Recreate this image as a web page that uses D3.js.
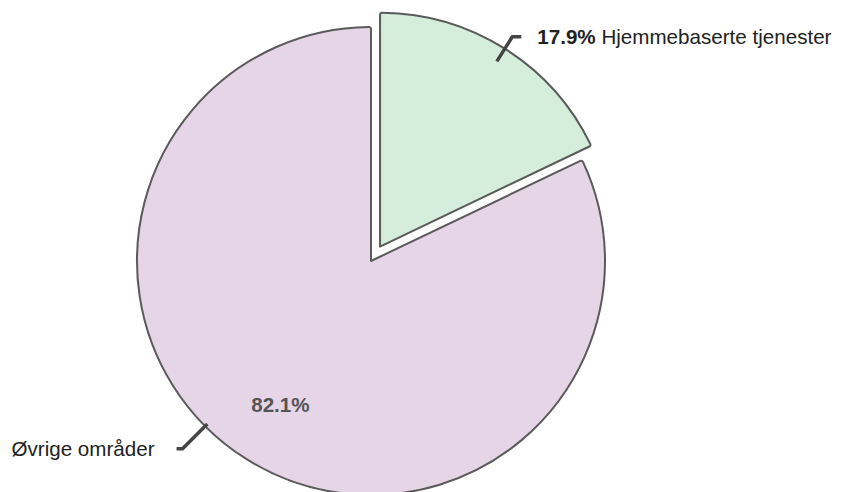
<!DOCTYPE html>
<html>
<head>
<meta charset="utf-8">
<script src="https://cdn.jsdelivr.net/npm/d3@7"></script>
<style>
html,body{margin:0;padding:0;background:#fff;}
svg{display:block;font-family:"Liberation Sans",Arial,Helvetica,sans-serif;}
</style>
</head>
<body>
<svg id="chart" width="841" height="492"></svg>
<script>
const categories = ["Hjemmebaserte tjenester", "Øvrige områder"];
const values = [17.9, 82.1];
const percentLabels = ["17.9%", "82.1%"];
const colors = ["#d5eedb", "#e6d4e7"];
const exploded = [true, false];

const W = 841, H = 492;
const cx = 371, cy = 261, R = 234, explodeDist = 17;
const FS = 20.6;

const svg = d3.select("#chart");
const g = svg.append("g").attr("transform", `translate(${cx},${cy})`);

const data = categories.map((c, i) => ({ name: c, value: values[i], pct: percentLabels[i], color: colors[i], exploded: exploded[i] }));

const pie = d3.pie().sort(null).value(d => d.value);
const arcs = pie(data);
const arc = d3.arc().innerRadius(0).outerRadius(R).cornerRadius(2);

function offset(d) {
  if (!d.data.exploded) return [0, 0];
  const a = (d.startAngle + d.endAngle) / 2;
  return [Math.sin(a) * explodeDist, -Math.cos(a) * explodeDist];
}
function pt(a, r, off) {
  return [off[0] + Math.sin(a) * r, off[1] - Math.cos(a) * r];
}

g.selectAll("path.slice").data(arcs).join("path")
  .attr("class", "slice")
  .attr("d", arc)
  .attr("transform", d => { const o = offset(d); return `translate(${o[0]},${o[1]})`; })
  .attr("fill", d => d.data.color)
  .attr("stroke", "#5a5a5a")
  .attr("stroke-width", 2)
  .attr("stroke-linejoin", "round");

// Leaders and labels
const labelCfg = [
  { angleShift: 0, r0: 219, r1: 248, hor: 9, gap: 16, side: 1 },
  { angleShift: 0.225, r0: 231, r1: 266, hor: 6, gap: 22, side: -1 }
];

arcs.forEach((d, i) => {
  const cfg = labelCfg[i];
  const o = offset(d);
  const a = (d.startAngle + d.endAngle) / 2 + cfg.angleShift;
  const p0 = pt(a, cfg.r0, o);
  const p1 = pt(a, cfg.r1, o);
  const p2 = [p1[0] + cfg.side * cfg.hor, p1[1]];
  g.append("path")
    .attr("d", d3.line()([p0, p1, p2]))
    .attr("fill", "none")
    .attr("stroke", "#454545")
    .attr("stroke-width", 3.5)
    .attr("stroke-linejoin", "round");
  const tx = p2[0] + cfg.side * cfg.gap;
  const t = g.append("text")
    .attr("x", tx)
    .attr("y", p2[1] + 7)
    .attr("text-anchor", cfg.side > 0 ? "start" : "end")
    .attr("font-size", FS)
    .attr("fill", "#222");
  if (i === 0) {
    t.append("tspan").attr("font-weight", "bold").text(d.data.pct);
    t.append("tspan").text(" " + d.data.name);
  } else {
    t.text(d.data.name);
  }
});

// Inside label for large slice
const big = arcs[1];
const am = (big.startAngle + big.endAngle) / 2;
const ip = pt(am, 170, [0, 0]);
g.append("text")
  .attr("x", ip[0])
  .attr("y", ip[1] + 7)
  .attr("text-anchor", "middle")
  .attr("font-size", FS)
  .attr("font-weight", "bold")
  .attr("fill", "#555")
  .text(big.data.pct);
</script>
</body>
</html>
